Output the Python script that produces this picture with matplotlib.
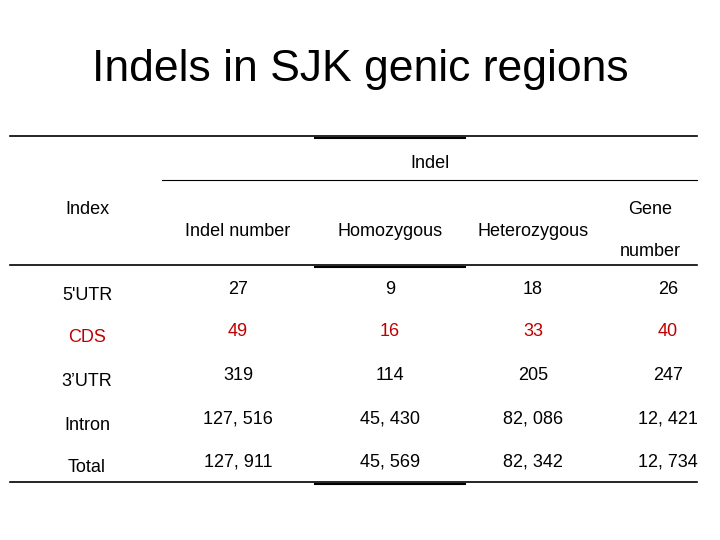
import matplotlib
matplotlib.use("Agg")
import matplotlib.pyplot as plt
from matplotlib.lines import Line2D

title = "Indels in SJK genic regions"
row_labels = ["5'UTR", "CDS", "3’UTR", "Intron", "Total"]
indel_number = ["27", "49", "319", "127, 516", "127, 911"]
homozygous = ["9", "16", "114", "45, 430", "45, 569"]
heterozygous = ["18", "33", "205", "82, 086", "82, 342"]
gene_number = ["26", "40", "247", "12, 421", "12, 734"]
red_rows = {"CDS"}

W, H = 720, 540
fig = plt.figure(figsize=(7.2, 5.4), dpi=100)
fig.patch.set_facecolor("white")

def T(x, y, s, size=13, color="black", ha="center"):
    fig.text(x / W, 1 - y / H, s, ha=ha, va="center", fontsize=size, color=color,
             family="Liberation Sans")

def L(x0, x1, y, lw=1.2):
    fig.add_artist(Line2D([x0 / W, x1 / W], [1 - y / H, 1 - y / H], color="black", lw=lw))

T(360, 70, title, size=32)
L(10, 697, 136); L(315, 465, 137.5, 1.5)
L(162, 697, 180, 0.8)
L(10, 697, 265); L(315, 465, 266.5, 1.5)
L(10, 697, 482); L(315, 465, 483.5, 1.5)

T(430, 164, "Indel")
T(87, 210, "Index")
T(238, 231, "Indel number")
T(390, 231, "Homozygous")
T(533, 231, "Heterozygous")
T(650, 210, "Gene")
T(650, 252, "number")

label_y = [295, 338, 381, 425, 468]
val_y = [289, 331, 376, 419, 462]
cols = [(238, indel_number), (390, homozygous), (533, heterozygous), (668, gene_number)]
for i, lab in enumerate(row_labels):
    c = "#c00000" if lab in red_rows else "black"
    T(87, label_y[i], lab, color=c)
    for x, vals in cols:
        T(x, val_y[i], vals[i], color=c)

fig.savefig("out.png", dpi=100)
